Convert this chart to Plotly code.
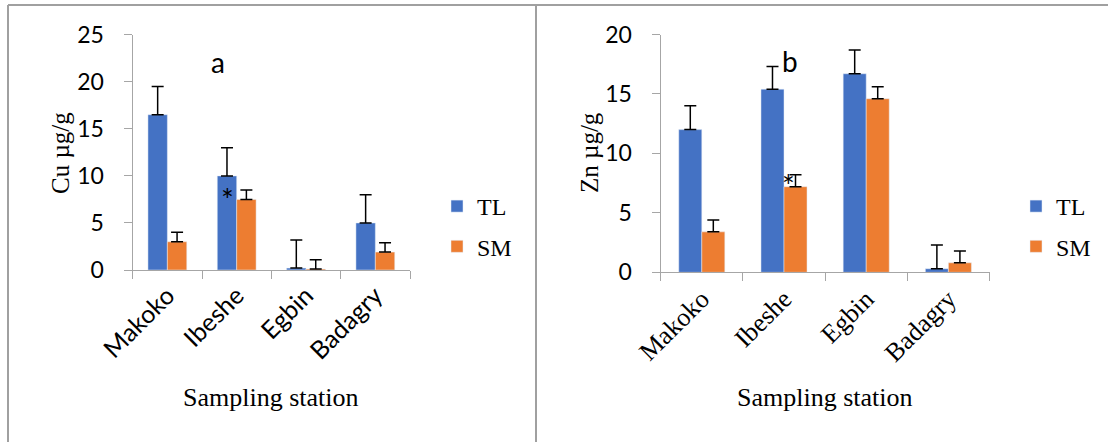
import plotly.graph_objects as go

W, H = 1108, 442

stations = ["Makoko", "Ibeshe", "Egbin", "Badagry"]
cu_tl = [16.5, 10, 0.2, 5]
cu_sm = [3, 7.5, 0.1, 1.9]
cu_tl_err = [3, 3, 3, 3]
cu_sm_err = [1, 1, 1, 1]
zn_tl = [12, 15.4, 16.7, 0.3]
zn_sm = [3.4, 7.2, 14.6, 0.8]
zn_tl_err = [2, 1.9, 2, 2]
zn_sm_err = [1, 1, 1, 1]
cu_ticks = [0, 5, 10, 15, 20, 25]
zn_ticks = [0, 5, 10, 15, 20]

BLUE = "#4472C4"
ORANGE = "#ED7D31"
AXIS = "#A6A6A6"
SANS = "Lato"
SERIF = "Liberation Serif"


def px(x):
    return x / W


def py(y):
    return 1 - y / H


def err(vals):
    return dict(type="data", array=vals, arrayminus=[0] * len(vals), symmetric=False,
                color="black", thickness=1.5, width=6)


fig = go.Figure()
fig.add_trace(go.Bar(x=stations, y=cu_tl, name="TL", marker_color=BLUE, error_y=err(cu_tl_err),
                     xaxis="x", yaxis="y", legend="legend", legendgroup="a1"))
fig.add_trace(go.Bar(x=stations, y=cu_sm, name="SM", marker_color=ORANGE, error_y=err(cu_sm_err),
                     xaxis="x", yaxis="y", legend="legend", legendgroup="a2"))
fig.add_trace(go.Bar(x=stations, y=zn_tl, name="TL", marker_color=BLUE, error_y=err(zn_tl_err),
                     xaxis="x2", yaxis="y2", legend="legend2", legendgroup="b1"))
fig.add_trace(go.Bar(x=stations, y=zn_sm, name="SM", marker_color=ORANGE, error_y=err(zn_sm_err),
                     xaxis="x2", yaxis="y2", legend="legend2", legendgroup="b2"))

xcommon = dict(type="category", showline=True, linecolor=AXIS, linewidth=1.3, ticks="outside",
               tickson="boundaries", ticklen=8, tickcolor=AXIS, tickwidth=1.3, tickangle=-45,
               showgrid=False, zeroline=False, fixedrange=True, automargin=False)
ycommon = dict(showline=True, linecolor=AXIS, linewidth=1.3, ticks="outside", ticklen=8,
               tickcolor=AXIS, tickwidth=1.3, showgrid=False, zeroline=False,
               tickfont=dict(family=SANS, size=23, color="black"), ticklabelstandoff=15,
               fixedrange=True, automargin=False)

legcommon = dict(xref="container", yref="container", xanchor="left", yanchor="top",
                 traceorder="grouped", tracegroupgap=6,
                 font=dict(family=SERIF, size=24, color="black"), bgcolor="rgba(0,0,0,0)")

fig.update_layout(
    width=W, height=H, autosize=False,
    margin=dict(l=0, r=0, t=0, b=0, pad=0, autoexpand=False),
    paper_bgcolor="white", plot_bgcolor="white",
    barmode="group", bargap=0.44, bargroupgap=0,
    xaxis=dict(xcommon, domain=[px(132.7), px(410)], anchor="y",
               tickfont=dict(family=SANS, size=25, color="black")),
    yaxis=dict(ycommon, domain=[py(270), py(34.7)], anchor="x", range=[0, 25], tickvals=cu_ticks),
    xaxis2=dict(xcommon, domain=[px(660.7), px(989.5)], anchor="y2",
                tickfont=dict(family=SERIF, size=26, color="black")),
    yaxis2=dict(ycommon, domain=[py(272.3), py(34.5)], anchor="x2", range=[0, 20], tickvals=zn_ticks),
    legend=dict(legcommon, x=px(437), y=py(184)),
    legend2=dict(legcommon, x=px(1016), y=py(184)),
    showlegend=True,
)

line = dict(color="#A0A0A0", width=2)
fig.add_shape(type="line", xref="paper", yref="paper", x0=px(8), x1=1, y0=py(5), y1=py(5), line=line)
fig.add_shape(type="line", xref="paper", yref="paper", x0=px(8), x1=px(8), y0=py(5), y1=0, line=line)
fig.add_shape(type="line", xref="paper", yref="paper", x0=px(536), x1=px(536), y0=py(5), y1=0, line=line)

ann = []
ann.append(dict(text="Cu µg/g", x=px(60), y=py(153), textangle=-90,
                font=dict(family=SERIF, size=25, color="black")))
ann.append(dict(text="Zn µg/g", x=px(589), y=py(153), textangle=-90,
                font=dict(family=SERIF, size=25, color="black")))
ann.append(dict(text="Sampling station", x=px(271), y=py(397),
                font=dict(family=SERIF, size=26, color="black")))
ann.append(dict(text="Sampling station", x=px(825), y=py(397),
                font=dict(family=SERIF, size=26, color="black")))
ann.append(dict(text="a", x=px(218), y=py(62), font=dict(family=SANS, size=28, color="black")))
ann.append(dict(text="b", x=px(790), y=py(61), font=dict(family=SANS, size=28, color="black")))
ann.append(dict(text="*", x=px(227), y=py(199), font=dict(family=SANS, size=30, color="black")))
ann.append(dict(text="*", x=px(788), y=py(185), font=dict(family=SANS, size=30, color="black")))
for a in ann:
    a.update(xref="paper", yref="paper", showarrow=False, xanchor="center", yanchor="middle")
fig.update_layout(annotations=ann)

fig.write_html("out.html", config={"displayModeBar": False},
               post_script="document.body.style.margin='0';document.body.style.overflow='hidden';")
